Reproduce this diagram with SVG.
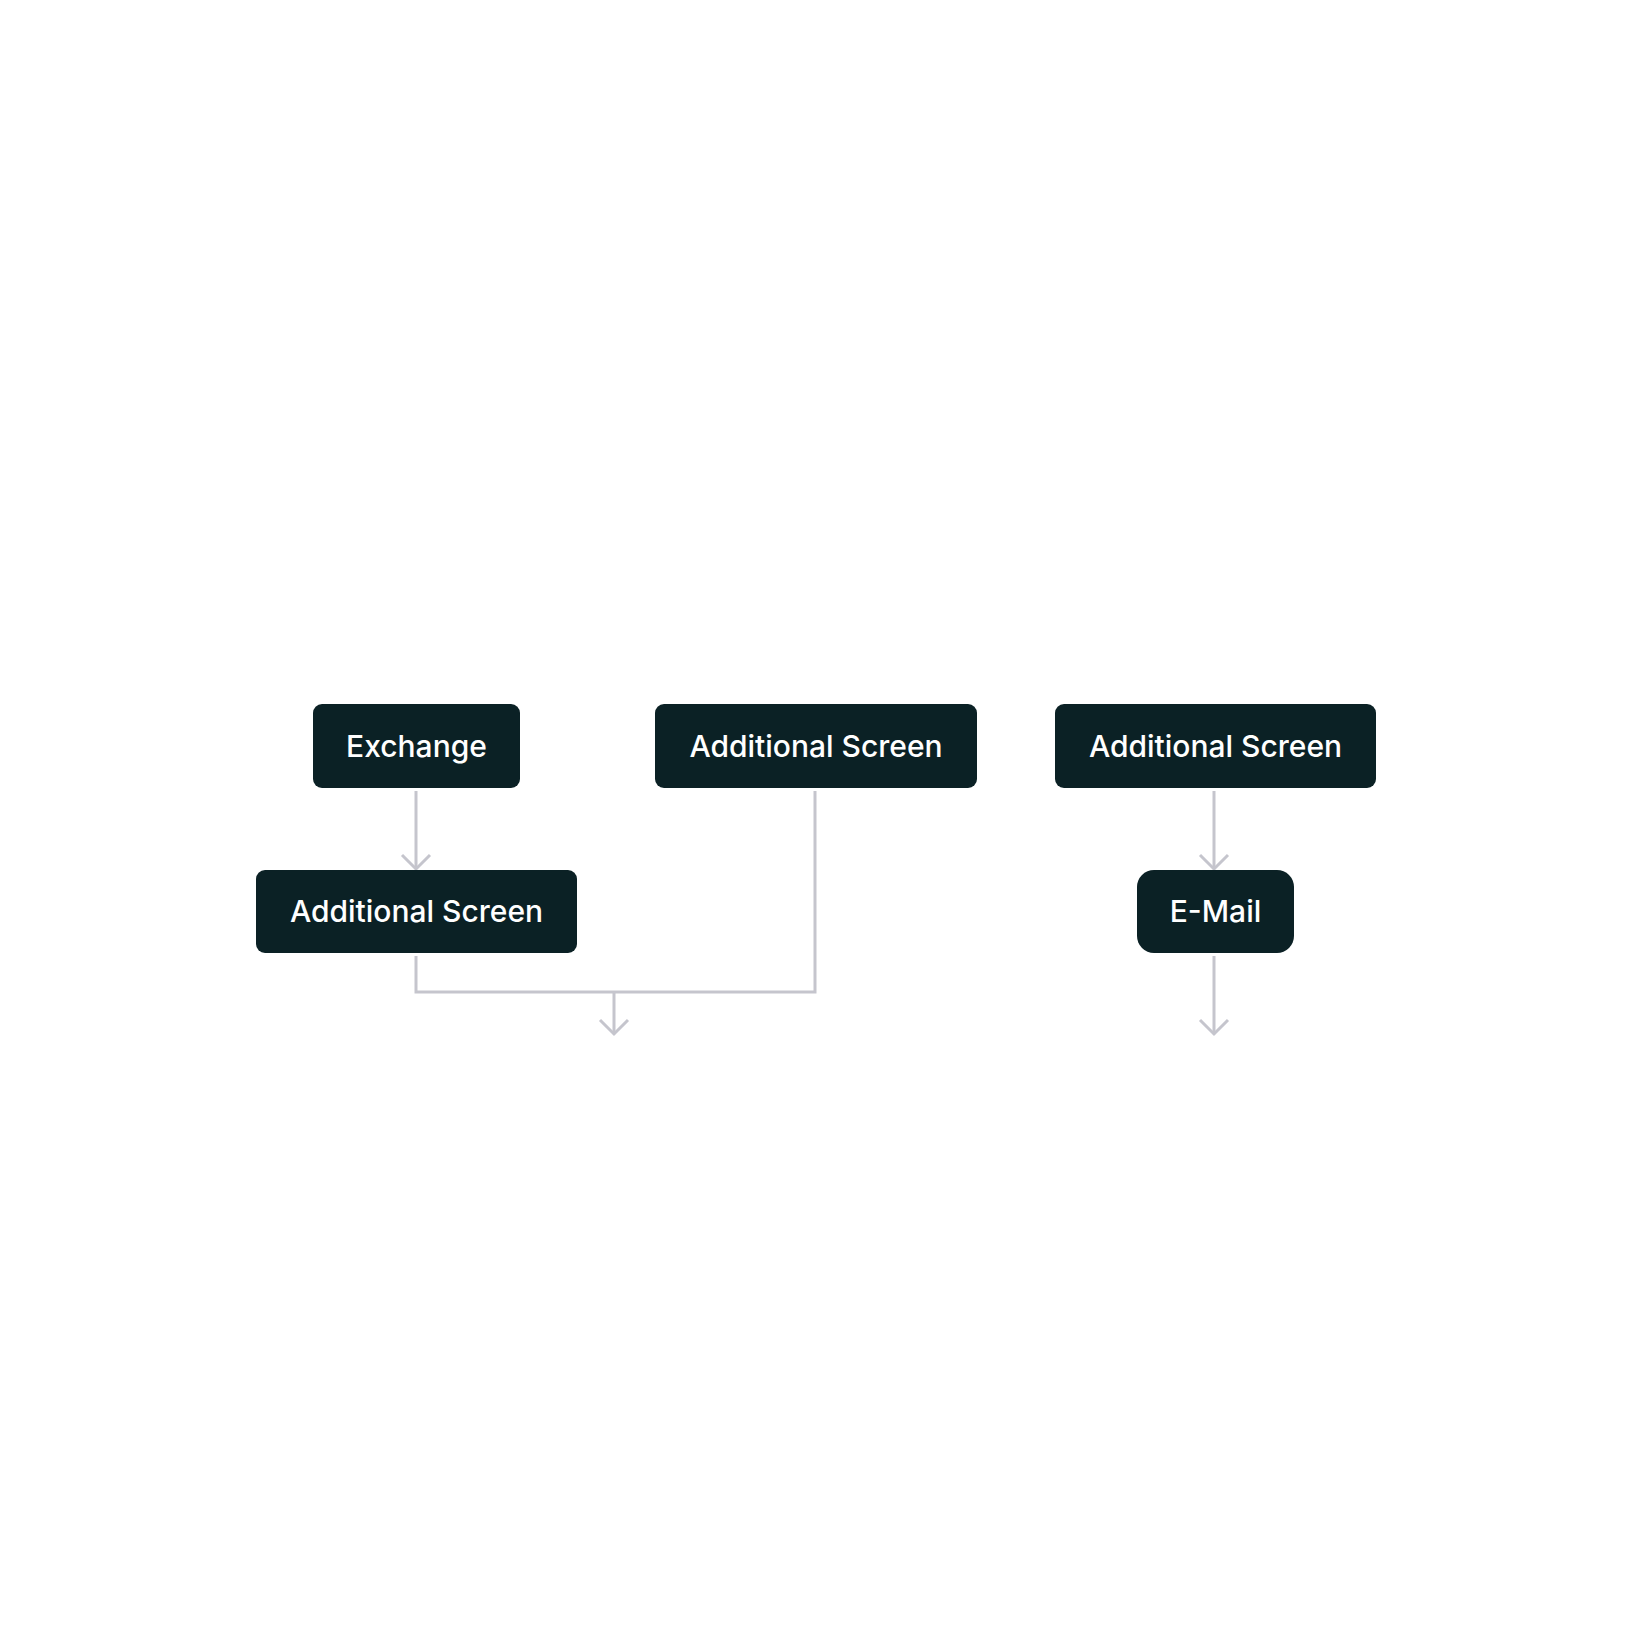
<svg xmlns="http://www.w3.org/2000/svg" width="1630" height="1631" viewBox="0 0 1630 1631">
  <style>
    .node { fill: #0b2125; }
    .label { fill: #ffffff; font-family: Inter, "Noto Sans", "Liberation Sans", sans-serif; font-size: 30px; font-weight: 500; text-anchor: middle; }
    .conn { fill: none; stroke: #c5c5cd; stroke-width: 3; }
  </style>
  <defs>
    <marker id="chev" viewBox="0 0 32 32" refX="28" refY="16" markerWidth="32" markerHeight="32" markerUnits="userSpaceOnUse" orient="auto">
      <path d="M14 2 L28 16 L14 30" fill="none" stroke="#c5c5cd" stroke-width="3"/>
    </marker>
  </defs>
  <rect width="1630" height="1631" fill="#ffffff"/>
  <g id="connectors">
    <path class="conn" d="M416 791 V869" marker-end="url(#chev)"/>
    <path class="conn" d="M416 956 V992 H815 V791"/>
    <path class="conn" d="M614 992 V1034" marker-end="url(#chev)"/>
    <path class="conn" d="M1214 791 V869" marker-end="url(#chev)"/>
    <path class="conn" d="M1214 956 V1034" marker-end="url(#chev)"/>
  </g>
  <g id="node-exchange">
    <rect class="node" x="313" y="704" width="207" height="84" rx="9"/>
    <text class="label" x="416.5" y="757">Exchange</text>
  </g>
  <g id="node-additional-1">
    <rect class="node" x="256" y="870" width="321" height="83" rx="9"/>
    <text class="label" x="416.5" y="922">Additional Screen</text>
  </g>
  <g id="node-additional-2">
    <rect class="node" x="655" y="704" width="322" height="84" rx="9"/>
    <text class="label" x="816" y="757">Additional Screen</text>
  </g>
  <g id="node-additional-3">
    <rect class="node" x="1055" y="704" width="321" height="84" rx="9"/>
    <text class="label" x="1215.5" y="757">Additional Screen</text>
  </g>
  <g id="node-email">
    <rect class="node" x="1137" y="870" width="157" height="83" rx="17"/>
    <text class="label" x="1215.5" y="922">E-Mail</text>
  </g>
</svg>
